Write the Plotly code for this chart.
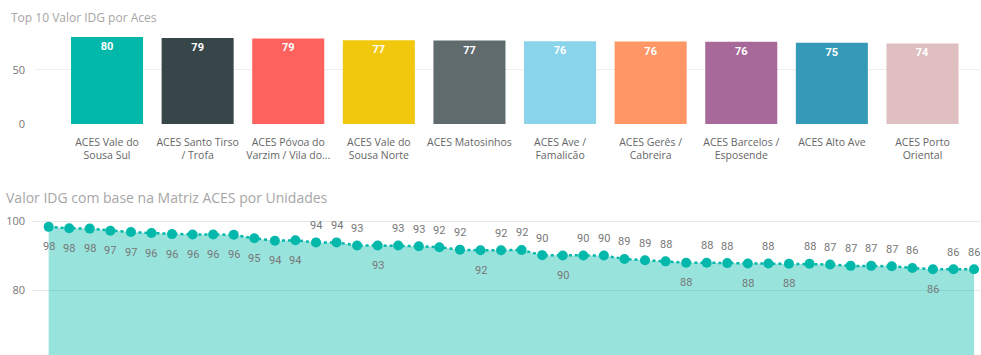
import plotly.graph_objects as go

# ---------------- data ----------------
aces_names = ["ACES Vale do<br>Sousa Sul", "ACES Santo Tirso<br>/ Trofa",
              "ACES Póvoa do<br>Varzim / Vila do...", "ACES Vale do<br>Sousa Norte",
              "ACES Matosinhos", "ACES Ave /<br>Famalicão", "ACES Gerês /<br>Cabreira",
              "ACES Barcelos /<br>Esposende", "ACES Alto Ave", "ACES Porto<br>Oriental"]
aces_values = [80.3, 79.4, 79.0, 77.4, 77.1, 76.4, 76.2, 75.9, 75.0, 74.4]
aces_colors = ["#01B8AA", "#374649", "#FD625E", "#F2C80F", "#5F6B6D",
               "#8AD4EB", "#FE9666", "#A66999", "#3599B8", "#DFBFBF"]

unit_index = list(range(46))
unit_values = [98.3, 97.9, 97.8, 97.2, 96.8, 96.5, 96.2, 96.1, 96.1, 96.0,
               95.0, 94.3, 94.4, 93.8, 93.8, 92.9, 92.9, 92.9, 92.7, 92.4,
               91.7, 91.5, 91.5, 91.6, 90.1, 90.0, 90.0, 90.0, 89.0, 88.6,
               88.3, 87.9, 87.9, 87.8, 87.7, 87.7, 87.6, 87.6, 87.4, 87.0,
               87.0, 86.9, 86.4, 86.0, 86.0, 86.0]
# label placement: 1 = above, -1 = below
label_side = [-1] * 13 + [1, 1, 1, -1, 1, 1, 1, 1, -1, 1, 1, 1, -1, 1, 1, 1, 1,
                          1, -1, 1, 1, -1, 1, -1, 1, 1, 1, 1, 1, 1, -1, 1, 1]

W, H = 981, 355
FONT = "Open Sans"

fig = go.Figure()

fig.add_trace(go.Bar(
    x=aces_names, y=aces_values, marker=dict(color=aces_colors, line=dict(width=0)),
    width=0.795, texttemplate="<b>%{y:.0f}</b>", textposition="inside",
    insidetextanchor="end", textangle=0,
    textfont=dict(family="Roboto", size=11, color="white"),
    xaxis="x", yaxis="y", showlegend=False, cliponaxis=False))

fig.add_trace(go.Scatter(
    x=unit_index, y=unit_values, mode="lines+markers", fill="tozeroy",
    fillcolor="rgba(1,184,170,0.4)",
    line=dict(color="#01B8AA", width=2.5, dash="dot"),
    marker=dict(color="#01B8AA", size=10),
    xaxis="x2", yaxis="y2", showlegend=False))

annotations = []
for xi, yi, side in zip(unit_index, unit_values, label_side):
    annotations.append(dict(
        x=xi, y=yi, xref="x2", yref="y2", text=f"{yi:.0f}", showarrow=False,
        yshift=17 if side > 0 else -20,
        font=dict(family="Roboto", size=11, color="#777777")))

annotations.append(dict(x=9 / W, y=1 - 17 / H, xref="paper", yref="paper",
                        xanchor="left", yanchor="middle", showarrow=False,
                        text="Top 10 Valor IDG por Aces",
                        font=dict(family=FONT, size=12, color="#A6A6A6")))
annotations.append(dict(x=4 / W, y=1 - 197 / H, xref="paper", yref="paper",
                        xanchor="left", yanchor="middle", showarrow=False,
                        text="Valor IDG com base na Matriz ACES por Unidades",
                        font=dict(family=FONT, size=14, color="#A6A6A6")))

fig.update_layout(
    width=W, height=H, margin=dict(l=0, r=0, t=0, b=0, autoexpand=False),
    paper_bgcolor="white", plot_bgcolor="white",
    font=dict(family=FONT, color="#666666"),
    annotations=annotations,
    xaxis=dict(domain=[35 / W, 980 / W], range=[-0.795, 9.635], type="category",
               showgrid=False, zeroline=False, showline=False, ticks="",
               tickangle=0, automargin=False,
               tickfont=dict(family=FONT, size=10.5, color="#666666"),
               ticklabelstandoff=10),
    yaxis=dict(domain=[1 - 124 / H, 1 - 32 / H], range=[0, 85], tickvals=[0, 50],
               showgrid=True, gridcolor="#EEEEEE", gridwidth=1, zeroline=False,
               showline=False, ticks="", automargin=False,
               tickfont=dict(family=FONT, size=11, color="#777777"),
               ticklabelstandoff=9),
    xaxis2=dict(domain=[32 / W, 980 / W], range=[-0.81, 45.29], showgrid=False,
                zeroline=False, showline=False, showticklabels=False, ticks="",
                automargin=False),
    yaxis2=dict(domain=[0, 1 - 210 / H], range=[61.16, 103.19], tickvals=[60, 80, 100],
                showgrid=True, gridcolor="#E6E6E6", gridwidth=1, zeroline=False,
                showline=False, ticks="", automargin=False,
                tickfont=dict(family=FONT, size=11, color="#777777"),
                ticklabelstandoff=9),
)

fig.write_html("out.html", config={"displayModeBar": False},
               post_script="document.body.style.margin='0';document.body.style.overflow='hidden';")
